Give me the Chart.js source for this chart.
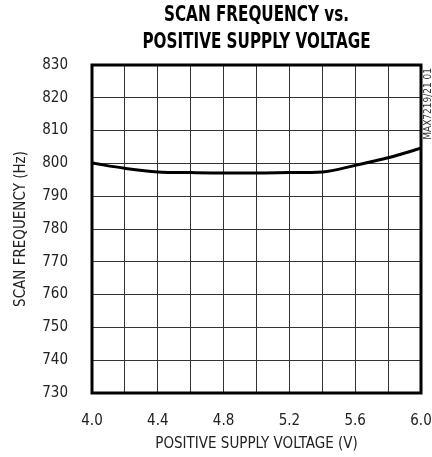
<!DOCTYPE html>
<html>
<head>
<meta charset="utf-8">
<script src="https://cdn.jsdelivr.net/npm/chart.js@4/dist/chart.umd.min.js"></script>
<style>
  html, body { margin: 0; padding: 0; background: #fff; }
  #wrap { width: 432px; height: 457px; }
</style>
</head>
<body>
<div id="wrap"><canvas id="scan_chart" width="432" height="457"></canvas></div>
<script>
const voltage = [4.0, 4.2, 4.4, 4.6, 4.8, 5.0, 5.2, 5.4, 5.6, 5.8, 6.0];
const frequency = [800.1, 798.5, 797.4, 797.2, 797.1, 797.1, 797.2, 797.4, 799.4, 801.7, 804.6];
const xLabels = ["4.0", "4.4", "4.8", "5.2", "5.6", "6.0"];
const yLabels = ["730", "740", "750", "760", "770", "780", "790", "800", "810", "820", "830"];
const titleLines = ["SCAN FREQUENCY vs.", "POSITIVE SUPPLY VOLTAGE"];

const narrow = "'Liberation Sans Narrow', 'DejaVu Sans Condensed', 'Arial Narrow', sans-serif";

// heavy frame, title over the plot, part number on the right
const framePlugin = {
  id: "frame",
  afterDatasetsDraw(chart) {
    const { ctx, chartArea: a } = chart;
    ctx.save();
    ctx.strokeStyle = "#000";
    ctx.lineWidth = 3;
    ctx.strokeRect(a.left, a.top, a.right - a.left, a.bottom - a.top);
    ctx.restore();

    // title, squeezed like the condensed face of the original
    ctx.save();
    ctx.font = "bold 22px " + narrow;
    ctx.fillStyle = "#000";
    ctx.textAlign = "center";
    ctx.textBaseline = "middle";
    const sx = 185 / ctx.measureText(titleLines[0]).width;
    const cx = (a.left + a.right) / 2;
    ctx.translate(cx, 0);
    ctx.scale(sx, 1);
    ctx.fillText(titleLines[0], 0, 15);
    ctx.fillText(titleLines[1], 0, 42);
    ctx.restore();

    ctx.save();
    ctx.translate(a.right + 7, a.top + 3);
    ctx.rotate(-Math.PI / 2);
    ctx.fillStyle = "#333";
    ctx.font = "10px " + narrow;
    ctx.textAlign = "right";
    ctx.textBaseline = "middle";
    ctx.fillText("MAX7219/21 01", 0, 0);
    ctx.restore();
  }
};

const ctx = document.getElementById("scan_chart").getContext("2d");
const chart = new Chart(ctx, {
  type: "line",
  data: {
    datasets: [
      {
        label: "Scan frequency",
        data: voltage.map((v, i) => ({ x: v, y: frequency[i] })),
        borderColor: "#000",
        borderWidth: 3,
        pointRadius: 0,
        cubicInterpolationMode: "monotone",
        fill: false
      }
    ]
  },
  options: {
    responsive: false,
    animation: false,
    layout: { padding: { left: 8, right: 11, top: 65, bottom: 0 } },
    plugins: {
      legend: { display: false },
      tooltip: { enabled: false },
      title: { display: false }
    },
    scales: {
      x: {
        type: "linear",
        min: 4,
        max: 6,
        ticks: {
          stepSize: 0.2,
          autoSkip: false,
          maxRotation: 0,
          color: "#222",
          padding: 19,
          font: { family: narrow, size: 15 },
          callback: (v) => {
            const k = Math.round((v - 4) / 0.4 * 100) / 100;
            return Number.isInteger(k) ? xLabels[k] : "";
          }
        },
        grid: { color: "#333", lineWidth: 1, drawTicks: false },
        border: { display: false },
        title: {
          display: true,
          text: "POSITIVE SUPPLY VOLTAGE (V)",
          color: "#222",
          font: { family: narrow, size: 15 },
          padding: { top: 4 }
        },
        afterFit: (s) => {
          s.height = 64;
          s.paddingLeft = 0;
          s.paddingRight = 0;
        }
      },
      y: {
        min: 730,
        max: 830,
        ticks: {
          stepSize: 10,
          color: "#222",
          padding: 24,
          font: { family: narrow, size: 15 },
          callback: (v) => yLabels[Math.round((v - 730) / 10)]
        },
        grid: { color: "#333", lineWidth: 1, drawTicks: false },
        border: { display: false },
        title: {
          display: true,
          text: "SCAN FREQUENCY (Hz)",
          color: "#222",
          font: { family: narrow, size: 15 },
          padding: { bottom: 0 }
        },
        afterFit: (s) => {
          s.width = 84;
          s.paddingTop = 0;
          s.paddingBottom = 0;
        }
      }
    }
  },
  plugins: [framePlugin]
});
</script>
</body>
</html>
